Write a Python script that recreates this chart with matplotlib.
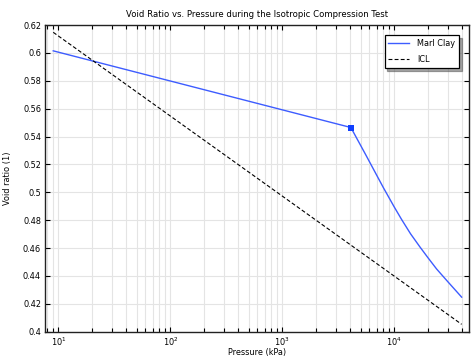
import numpy as np
import matplotlib
matplotlib.use('Agg')
import matplotlib.pyplot as plt
from matplotlib.ticker import LogLocator, FixedLocator, NullFormatter

# Marl Clay: swelling line up to the yield point, then the compression curve
marl_p = [9, 4100, 5560, 7980, 10000, 11640, 14000, 16970, 20000, 23900, 30000, 40000]
marl_e = [0.6015, 0.5465, 0.527, 0.5035, 0.4895, 0.4805, 0.4702, 0.4608, 0.4531, 0.4450, 0.4360, 0.4248]

# yield point (marker)
yield_p = [4100]
yield_e = [0.5465]

# isotropic compression line
icl_p = [9, 40000]
icl_e = [0.6148, 0.4053]

y_ticks = [0.4, 0.42, 0.44, 0.46, 0.48, 0.5, 0.52, 0.54, 0.56, 0.58, 0.6, 0.62]
y_labels = ['0.4', '0.42', '0.44', '0.46', '0.48', '0.5', '0.52', '0.54', '0.56', '0.58', '0.6', '0.62']

fs = 5.9
blue = '#3d5cff'

fig = plt.figure(figsize=(4.74, 3.58), dpi=100)
ax = fig.add_axes([0.094, 0.0735, 0.896, 0.8565])

ax.plot(marl_p, marl_e, color=blue, lw=1.0, label='Marl Clay')
ax.plot(yield_p, yield_e, 's', color='#1040ff', ms=4.5, mew=0)
ax.plot(icl_p, icl_e, color='black', lw=0.8, ls=(0, (3.5, 2)), label='ICL')

ax.set_xscale('log')
ax.set_xlim(7.53, 46800)
ax.set_ylim(0.4, 0.62)
ax.yaxis.set_major_locator(FixedLocator(y_ticks))
ax.set_yticklabels(y_labels)
ax.xaxis.set_major_locator(LogLocator(base=10, numticks=10))
ax.xaxis.set_minor_locator(LogLocator(base=10, subs=np.arange(2, 10), numticks=10))
ax.xaxis.set_minor_formatter(NullFormatter())

ax.grid(True, which='major', color='#e4e4e4', lw=0.8)
ax.grid(True, which='minor', axis='x', color='#e4e4e4', lw=0.8)
ax.set_axisbelow(True)

ax.tick_params(which='both', direction='in', top=True, right=True,
               labelsize=fs, pad=2.5, width=0.8, color='black')
ax.tick_params(which='major', length=3.5)
ax.tick_params(which='minor', length=3)
for s in ax.spines.values():
    s.set_linewidth(1.0)
    s.set_color('#222222')

ax.set_title('Void Ratio vs. Pressure during the Isotropic Compression Test',
             fontsize=6.1, pad=5.5)
ax.set_xlabel('Pressure (kPa)', fontsize=fs, labelpad=0)
ax.set_ylabel('Void ratio (1)', fontsize=fs, labelpad=8)

leg = ax.legend(loc='upper right', fontsize=fs, fancybox=False, shadow=True,
                edgecolor='black', framealpha=1, borderpad=0.47,
                labelspacing=0.87, handlelength=2.5, handletextpad=1.0,
                borderaxespad=0, bbox_to_anchor=(0.9757, 0.967))
leg.get_frame().set_linewidth(0.9)

fig.savefig('out.png', dpi=100)
